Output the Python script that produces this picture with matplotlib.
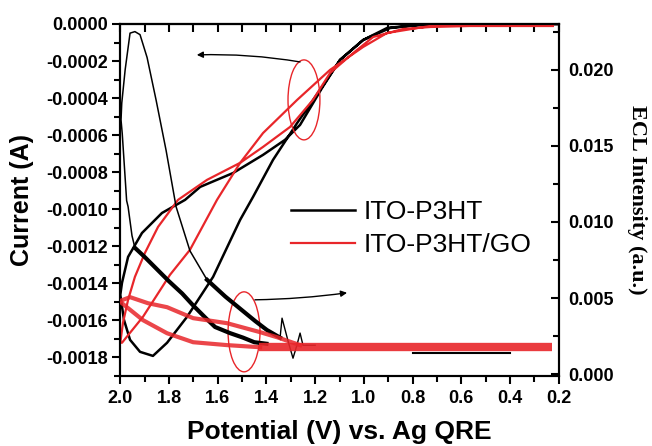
import matplotlib
matplotlib.use("Agg")
import matplotlib.pyplot as plt
from matplotlib.patches import Ellipse
from matplotlib.lines import Line2D

# ---------------- data ----------------
# Cyclic voltammograms (left axis, current in A)
cv_p3ht_v = [0.20, 0.646, 0.782, 0.905, 1.003, 1.098, 1.180, 1.274, 1.373, 1.455, 1.508,
             1.619, 1.726, 1.808, 1.866, 1.919, 1.960, 1.985, 2.000,
             1.993, 1.968, 1.911, 1.829, 1.734, 1.672, 1.537, 1.414, 1.324, 1.262,
             1.213, 1.172, 1.098, 1.003, 0.892, 0.769, 0.605, 0.20]
cv_p3ht_i = [0.0, 0.0, -0.0000054, -0.0000216, -0.0000864, -0.000194, -0.000356, -0.000535,
             -0.000734, -0.000934, -0.001058, -0.001366, -0.001582, -0.001722, -0.001793,
             -0.001771, -0.001706, -0.001598, -0.001463,
             -0.001398, -0.001258, -0.001129, -0.001021, -0.000950, -0.000880, -0.000805,
             -0.000707, -0.000626, -0.000545, -0.000437, -0.000346, -0.000194, -0.0000864,
             -0.0000216, -0.0000054, 0.0, 0.0]

cv_go_v = [0.20, 0.564, 0.728, 0.905, 1.003, 1.139, 1.274, 1.414, 1.508, 1.603, 1.714,
           1.796, 1.907, 1.960, 1.993, 2.000,
           1.989, 1.968, 1.940, 1.899, 1.845, 1.763, 1.644, 1.508, 1.414, 1.303, 1.209,
           1.139, 1.044, 0.962, 0.839, 0.728, 0.564, 0.224]
cv_go_i = [0.0, 0.0, -0.0000108, -0.0000486, -0.000124, -0.000248, -0.000410, -0.000589,
           -0.000750, -0.000950, -0.001220, -0.001355, -0.001582, -0.001668, -0.001722,
           -0.001722,
           -0.001614, -0.001490, -0.001366, -0.001237, -0.001096, -0.000950, -0.000842,
           -0.000750, -0.000664, -0.000556, -0.000410, -0.000265, -0.000157, -0.0000702,
           -0.000027, -0.0000162, -0.0000108, -0.0000108]

# ECL intensity (right axis, a.u.)
# thin part of the ITO-P3HT emission peak
ecl_p3ht_peak_v = [1.644, 1.714, 1.771, 1.812, 1.853, 1.89, 1.919, 1.94, 1.96, 1.98, 1.994,
                   1.997, 1.992, 1.974, 1.968, 1.952, 1.94]
ecl_p3ht_peak_e = [0.0062, 0.0081, 0.0110, 0.0147, 0.0180, 0.0208, 0.0223, 0.0225, 0.0224,
                   0.0200, 0.0178, 0.0167, 0.0158, 0.0114, 0.0110, 0.0091, 0.0083]
# stepped rising and decaying parts
ecl_p3ht_rise_v = [1.344, 1.398, 1.447, 1.508, 1.569, 1.644]
ecl_p3ht_rise_e = [0.0024, 0.0029, 0.0035, 0.0043, 0.0051, 0.0062]
ecl_p3ht_decay_v = [1.94, 1.90, 1.85, 1.80, 1.746, 1.70, 1.65, 1.611, 1.55, 1.496, 1.45, 1.40]
ecl_p3ht_decay_e = [0.0083, 0.0077, 0.0069, 0.0061, 0.0053, 0.0045, 0.0037, 0.0031, 0.0027,
                    0.0024, 0.0021, 0.0020]
# noisy onset region
ecl_p3ht_noise_v = [1.20, 1.25, 1.262, 1.275, 1.291, 1.31, 1.336, 1.344]
ecl_p3ht_noise_e = [0.0019, 0.0019, 0.0027, 0.0019, 0.00105, 0.0021, 0.00368, 0.0024]
ecl_p3ht_base_v = [0.40, 0.80]
ecl_p3ht_base_e = [0.00140, 0.00140]

ecl_go_up_v = [2.0, 1.993, 1.960, 1.886, 1.808, 1.701, 1.562, 1.426, 1.357, 1.262]
ecl_go_up_e = [0.0048, 0.00486, 0.00506, 0.00466, 0.00440, 0.00368, 0.00335, 0.00276,
               0.00243, 0.00191]
ecl_go_lo_v = [1.993, 1.907, 1.808, 1.701, 1.562, 1.426]
ecl_go_lo_e = [0.00466, 0.00355, 0.00269, 0.00210, 0.00191, 0.00177]
ecl_go_base_v = [1.43, 0.227]
ecl_go_base_e = [0.00177, 0.00177]

labels = ["ITO-P3HT", "ITO-P3HT/GO"]
RED = "#e8262a"

# ---------------- figure ----------------
fig = plt.figure(figsize=(6.52, 4.46), dpi=100)
ax = fig.add_axes([0.1845, 0.1576, 0.6725, 0.7886])
ax2 = ax.twinx()

ax.set_xlim(2.0, 0.2)
ax.set_ylim(-0.0019, 0.0)
ax2.set_ylim(-0.0001, 0.0230)

# ECL traces
ax2.plot(ecl_p3ht_base_v, ecl_p3ht_base_e, color="black", lw=1.5, zorder=1)
ax2.plot(ecl_p3ht_noise_v, ecl_p3ht_noise_e, color="black", lw=1.0, zorder=2)
ax2.plot(ecl_p3ht_peak_v, ecl_p3ht_peak_e, color="black", lw=1.1, zorder=2)
ax2.plot(ecl_p3ht_rise_v, ecl_p3ht_rise_e, color="black", lw=3.0, zorder=2)
ax2.plot(ecl_p3ht_decay_v, ecl_p3ht_decay_e, color="black", lw=3.0, zorder=2)
ax2.plot(ecl_go_base_v, ecl_go_base_e, color=RED, lw=6, zorder=3, alpha=0.9,
         solid_capstyle="butt")
ax2.plot(ecl_go_up_v, ecl_go_up_e, color=RED, lw=3.0, zorder=3, alpha=0.85)
ax2.plot(ecl_go_lo_v, ecl_go_lo_e, color=RED, lw=3.0, zorder=3, alpha=0.85)

# CV traces
ax.plot(cv_p3ht_v, cv_p3ht_i, color="black", lw=1.8, zorder=4)
ax.plot(cv_go_v, cv_go_i, color=RED, lw=1.6, zorder=5)

# ellipses marking the two curve groups
for cx, cy in [(1.246, -0.00041), (1.492, -0.001663)]:
    ax.add_patch(Ellipse((cx, cy), 0.131, 0.000432, fill=False, ec=RED, lw=1.0, zorder=6))

arrow = dict(arrowstyle="-|>", color="black", lw=1.0, mutation_scale=9, shrinkA=0, shrinkB=0)
ax.annotate("", xy=(1.686, -0.000167), xytext=(1.262, -0.000205),
            arrowprops=dict(arrow, connectionstyle="arc3,rad=0.05"), zorder=7)
ax.annotate("", xy=(1.069, -0.001452), xytext=(1.447, -0.00149),
            arrowprops=dict(arrow, connectionstyle="arc3,rad=0.03"), zorder=7)

# axes styling
tick_font = dict(family="Liberation Sans", weight="bold", size=13)
ax.set_xticks([2.0, 1.8, 1.6, 1.4, 1.2, 1.0, 0.8, 0.6, 0.4, 0.2])
ax.set_xticks([1.9, 1.7, 1.5, 1.3, 1.1, 0.9, 0.7, 0.5, 0.3], minor=True)
ax.set_xticklabels([f"{v:.1f}" for v in ax.get_xticks()], **tick_font)
yt = [-0.0018, -0.0016, -0.0014, -0.0012, -0.0010, -0.0008, -0.0006, -0.0004, -0.0002, 0.0]
ax.set_yticks(yt)
ax.set_yticks([-0.0019, -0.0017, -0.0015, -0.0013, -0.0011, -0.0009, -0.0007, -0.0005,
               -0.0003, -0.0001], minor=True)
ax.set_yticklabels(["0.0000" if v == 0 else f"{v:.4f}" for v in yt], **tick_font)
ax2.set_yticks([0.0, 0.005, 0.010, 0.015, 0.020])
ax2.set_yticks([0.0025, 0.0075, 0.0125, 0.0175, 0.0225], minor=True)
ax2.set_yticklabels(["0.000", "0.005", "0.010", "0.015", "0.020"], **tick_font)

ax.tick_params(axis="both", which="major", direction="out", length=6, width=1.5, pad=3)
ax.tick_params(axis="both", which="minor", direction="out", length=4, width=1.5)
ax.tick_params(axis="x", pad=4)
ax2.tick_params(axis="y", which="major", direction="in", length=6, width=1.5, pad=7)
ax2.tick_params(axis="y", which="minor", direction="in", length=4, width=1.5)

top = ax.secondary_xaxis("top")
top.set_xticks([2.0, 1.8, 1.6, 1.4, 1.2, 1.0, 0.8, 0.6, 0.4, 0.2])
top.set_xticks([1.9, 1.7, 1.5, 1.3, 1.1, 0.9, 0.7, 0.5, 0.3], minor=True)
top.tick_params(which="both", direction="in", length=6, width=1.5, labeltop=False)
top.spines["top"].set_linewidth(1.5)

for a in (ax, ax2):
    for s in a.spines.values():
        s.set_linewidth(1.5)

ax.set_xlabel("Potential (V) vs. Ag QRE", family="Liberation Sans", weight="bold", size=19,
              labelpad=10)
ax.set_ylabel("Current (A)", family="Liberation Sans", weight="bold", size=18, labelpad=9)
ax2.set_ylabel("ECL Intensity (a.u.)", family="Liberation Serif", weight="bold", size=16,
               rotation=270, labelpad=24)

handles = [Line2D([], [], color="black", lw=1.8), Line2D([], [], color=RED, lw=1.6)]
ax.legend(handles, labels, loc="upper left", bbox_to_anchor=(0.39, 0.50), frameon=False,
          prop=dict(family="Liberation Sans", size=19), handlelength=2.4,
          handletextpad=0.35, labelspacing=0.35, borderpad=0, borderaxespad=0)

fig.savefig("out.png", dpi=100)
